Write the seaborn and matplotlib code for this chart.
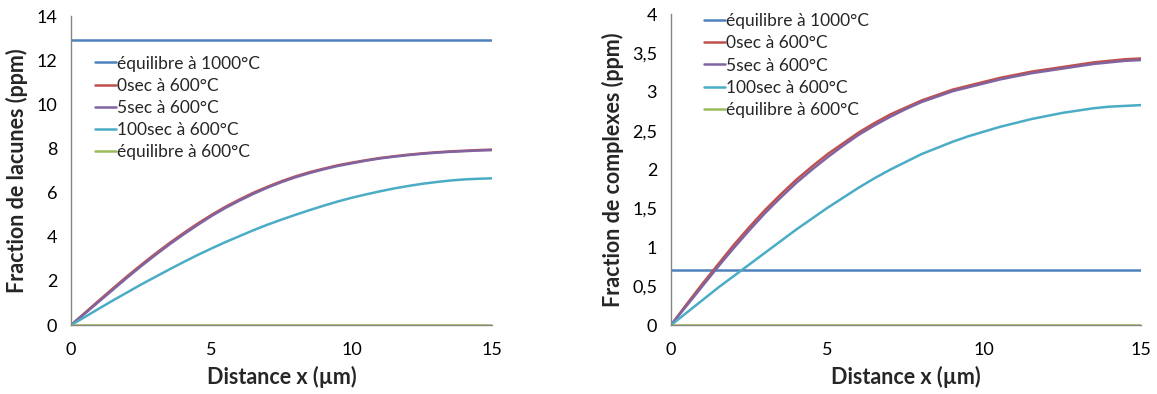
import numpy as np
import pandas as pd
import matplotlib
matplotlib.use("Agg")
import matplotlib.pyplot as plt
from matplotlib.ticker import FuncFormatter, MultipleLocator
import seaborn as sns

sns.set_style("white")
plt.rcParams['font.family'] = ['Lato', 'DejaVu Sans']

# ---- data ----
x_um = [0, 0.5, 1, 1.5, 2, 2.5, 3, 3.5, 4, 4.5, 5, 5.5, 6, 6.5, 7, 7.5,
        8, 8.5, 9, 9.5, 10, 10.5, 11, 11.5, 12, 12.5, 13, 13.5, 14, 14.5, 15]

series_labels = ["équilibre à 1000°C", "0sec à 600°C", "5sec à 600°C",
                 "100sec à 600°C", "équilibre à 600°C"]
series_colors = ["#4F81BD", "#C0504D", "#8064A2", "#4BACC6", "#9BBB59"]

# left panel : fraction de lacunes (ppm)
lac_eq1000 = [12.93] * 31
lac_0s = [0, .56, 1.12, 1.67, 2.21, 2.73, 3.23, 3.71, 4.16, 4.59, 4.99, 5.36, 5.69, 6.00, 6.27, 6.52,
          6.74, 6.93, 7.09, 7.24, 7.36, 7.47, 7.57, 7.65, 7.72, 7.78, 7.83, 7.87, 7.90, 7.93, 7.95]
lac_5s = [0, .53, 1.07, 1.61, 2.15, 2.67, 3.17, 3.65, 4.10, 4.53, 4.94, 5.31, 5.64, 5.95, 6.23, 6.48,
          6.70, 6.89, 7.06, 7.21, 7.33, 7.45, 7.55, 7.63, 7.70, 7.76, 7.81, 7.85, 7.88, 7.91, 7.93]
lac_100s = [0, .37, .75, 1.12, 1.48, 1.84, 2.18, 2.52, 2.85, 3.17, 3.47, 3.76, 4.03, 4.30, 4.55, 4.78,
            5.00, 5.21, 5.41, 5.60, 5.77, 5.92, 6.06, 6.19, 6.30, 6.40, 6.48, 6.55, 6.60, 6.63, 6.65]
lac_eq600 = [0.02] * 31

# right panel : fraction de complexes (ppm)
cpx_eq1000 = [0.71] * 31
cpx_0s = [0, .27, .53, .78, 1.03, 1.26, 1.48, 1.68, 1.87, 2.04, 2.20, 2.34, 2.48, 2.60, 2.71, 2.80,
          2.89, 2.96, 3.03, 3.08, 3.13, 3.18, 3.22, 3.26, 3.29, 3.32, 3.35, 3.38, 3.40, 3.42, 3.43]
cpx_5s = [0, .25, .50, .75, .99, 1.22, 1.44, 1.64, 1.83, 2.00, 2.16, 2.31, 2.45, 2.57, 2.68, 2.78,
          2.87, 2.94, 3.01, 3.06, 3.11, 3.16, 3.20, 3.24, 3.27, 3.30, 3.33, 3.36, 3.38, 3.40, 3.41]
cpx_100s = [0, .16, .32, .48, .63, .78, .93, 1.08, 1.23, 1.37, 1.51, 1.64, 1.77, 1.89, 2.00, 2.10,
            2.20, 2.28, 2.36, 2.43, 2.49, 2.55, 2.60, 2.65, 2.69, 2.73, 2.76, 2.79, 2.81, 2.82, 2.83]
cpx_eq600 = [0.005] * 31

left_series = [lac_eq1000, lac_0s, lac_5s, lac_100s, lac_eq600]
right_series = [cpx_eq1000, cpx_0s, cpx_5s, cpx_100s, cpx_eq600]

fig = plt.figure(figsize=(11.57, 3.94), dpi=100)
axL = fig.add_axes([0.0614, 0.175, 0.364, 0.784])
axR = fig.add_axes([0.580, 0.175, 0.406, 0.789])

grey = "#868686"


def draw(ax, series, ymax, ystep, ylabel, fmt, legend_anchor):
    for lab, vals, col in zip(series_labels, series, series_colors):
        df = pd.DataFrame({"x": x_um, "y": vals})
        sns.lineplot(data=df, x="x", y="y", ax=ax, color=col, lw=1.8, label=lab)
    ax.set_xlim(0, 15)
    ax.set_ylim(0, ymax)
    ax.xaxis.set_major_locator(MultipleLocator(5))
    ax.yaxis.set_major_locator(MultipleLocator(ystep))
    ax.yaxis.set_major_formatter(FuncFormatter(fmt))
    for s in ["top", "right"]:
        ax.spines[s].set_visible(False)
    for s in ["left", "bottom"]:
        ax.spines[s].set_color(grey)
        ax.spines[s].set_linewidth(1.0)
    ax.tick_params(axis="both", direction="out", length=5, width=1, color=grey,
                   labelsize=13, labelcolor="black")
    ax.tick_params(axis="x", pad=7)
    ax.tick_params(axis="y", pad=5)
    ax.set_xlabel("Distance x (µm)", fontsize=15.5, fontweight="bold", labelpad=6)
    ax.set_ylabel(ylabel, fontsize=15.5, fontweight="bold", labelpad=6)
    leg = ax.legend(loc="upper left", bbox_to_anchor=legend_anchor, frameon=False,
                    fontsize=12.5, handlelength=1.2, handletextpad=0.1,
                    labelspacing=0.35, borderaxespad=0)
    return leg


def fmt_int(v, pos):
    return f"{v:g}"


def fmt_comma(v, pos):
    return f"{v:g}".replace(".", ",")


draw(axL, left_series, 14, 2, "Fraction de lacunes (ppm)", fmt_int, (0.04, 0.895))
draw(axR, right_series, 4, 0.5, "Fraction de complexes (ppm)", fmt_comma, (0.055, 1.025))

fig.savefig("out.png", dpi=100)
